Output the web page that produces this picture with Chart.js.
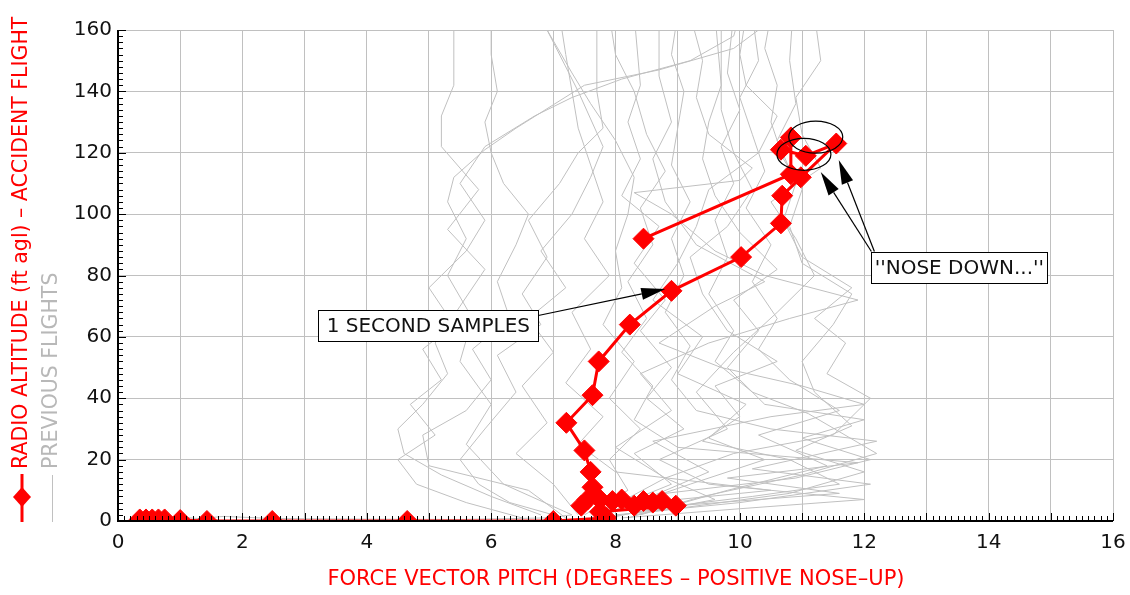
<!DOCTYPE html>
<html>
<head>
<meta charset="utf-8">
<script src="https://cdn.jsdelivr.net/npm/chart.js@4/dist/chart.umd.min.js"></script>
<style>
  html, body { margin: 0; padding: 0; background: #fff; }
  #chart { display: block; }
</style>
</head>
<body>
<canvas id="chart" width="1130" height="595"></canvas>
<script>
'use strict';

// ---- accident flight (1 second samples) ----
const accidentPitch = [8.45, 10.82, 10.82, 10.66, 11.06, 11.55, 10.98, 10.68, 10.66, 10.02,
  8.9, 8.23, 7.73, 7.63, 7.21, 7.5, 7.6, 7.63, 7.55, 7.45,
  7.75, 7.95, 8.1, 8.3, 8.45, 8.6, 8.75, 8.97, 7.75, 7.85,
  7.0, 4.65, 2.48, 1.43, 1.0, 0.75, 0.65, 0.55, 0.45, 0.35];
const accidentAlt = [92, 113, 125, 121, 119, 123, 112, 106, 97, 86,
  75, 64, 52, 41, 32, 23, 16, 11, 7, 5,
  7, 6.5, 7, 5, 6.5, 6, 6.5, 5, 3, 1,
  0, 0, 0, 0, 0.3, 0.5, 0.5, 0.5, 0.5, 0.5];

// ---- previous flights: [pitch, altitude] ----
const prevGround = [[0.2, 0.5], [0.8, 1.5], [1.3, 0.8], [1.7, 1.5], [2.5, 0.8], [4, 0.6], [5.5, 0.5], [6.9, 1], [7.3, 2]];
const prev01 = [[6.8, 2], [6.0, 8], [5.2, 15], [4.6, 22], [4.5, 30], [4.9, 38], [5.3, 48], [5.1, 58], [5.5, 70], [5.9, 82], [5.3, 95], [5.8, 108], [5.2, 122], [5.2, 132], [5.4, 142], [5.4, 152], [5.4, 165]];
const prev02 = [[7.2, 1], [6.6, 10], [5.0, 18], [4.9, 28], [5.6, 36], [6.0, 46], [5.7, 56], [6.3, 66], [6.1, 78], [6.4, 90], [6.6, 100], [6.2, 110], [6.0, 120], [5.9, 130], [6.1, 140], [6.0, 152], [6.0, 165]];
const prev03 = [[7.4, 2], [7.0, 12], [6.4, 22], [6.9, 32], [6.5, 44], [7.0, 55], [6.6, 66], [7.2, 76], [6.8, 88], [7.3, 100], [7.6, 112], [7.8, 122], [7.4, 140], [6.9, 160], [6.8, 165]];
const prev04 = [[7.6, 1], [8.5, 6], [10.5, 10], [8.0, 16], [7.4, 25], [7.8, 34], [7.2, 45], [7.6, 56], [7.3, 68], [7.9, 80], [7.5, 92], [7.8, 104], [7.6, 116], [7.4, 128], [7.3, 140], [7.2, 152], [7.1, 165]];
const prev05 = [[7.8, 1], [9.0, 5], [11.6, 9], [9.8, 14], [11.9, 19], [9.0, 24], [8.3, 33], [8.6, 44], [8.1, 55], [8.5, 66], [8.2, 78], [8.6, 90], [8.4, 102], [8.8, 114], [8.5, 126], [8.3, 140], [8.0, 152], [7.9, 165]];
const prev06 = [[8.0, 2], [10.0, 6], [12.1, 12], [10.2, 17], [12.2, 26], [10.5, 30], [9.3, 36], [8.9, 46], [9.2, 57], [8.8, 68], [9.1, 80], [8.9, 92], [9.2, 104], [8.9, 116], [9.0, 128], [9.1, 140], [8.9, 152], [9.0, 165]];
const prev07 = [[8.2, 1], [9.4, 8], [11.0, 15], [12.2, 22], [11.1, 35], [10.2, 42], [9.6, 52], [9.9, 62], [9.5, 74], [9.8, 86], [9.6, 98], [9.9, 110], [9.7, 122], [10.0, 134], [9.8, 146], [9.9, 165]];
const prev08 = [[8.4, 2], [9.8, 10], [11.4, 18], [10.3, 28], [11.6, 36], [10.8, 46], [10.3, 56], [10.6, 66], [10.2, 78], [10.5, 90], [10.1, 102], [10.4, 114], [10.2, 126], [10.0, 138], [10.3, 150], [10.2, 165]];
const prev09 = [[8.6, 3], [10.8, 9], [12.0, 16], [10.9, 23], [11.8, 31], [11.2, 42], [11.0, 52], [11.5, 64], [11.8, 74], [11.0, 84], [10.8, 96], [11.0, 108], [10.7, 118], [10.5, 130], [10.6, 142], [10.4, 154], [10.5, 165]];
const prev10 = [[7.9, 3], [9.2, 12], [10.4, 20], [9.5, 27], [10.1, 38], [9.0, 48], [9.4, 60], [8.6, 72], [9.0, 84], [9.3, 96], [9.5, 108], [10.3, 120], [10.6, 132], [10.1, 142], [10.0, 152], [10.1, 165]];
const prev11 = [[7.5, 2], [8.2, 10], [7.9, 20], [8.4, 30], [7.9, 40], [8.3, 52], [7.8, 64], [8.1, 76], [8.0, 88], [8.2, 100], [8.3, 112], [8.0, 124], [7.6, 136], [7.3, 146], [6.9, 160], [6.8, 165]];
const prev12 = [[7.3, 2], [6.2, 12], [5.6, 25], [6.0, 38], [5.5, 52], [5.7, 66], [5.3, 80], [5.6, 92], [5.3, 104], [5.4, 112], [5.9, 121], [6.4, 128], [7.5, 142], [8.7, 147], [9.9, 154], [10.3, 160], [10.4, 165]];
const prev13 = [[8.1, 1], [10.0, 4], [12.0, 7], [9.5, 12], [8.7, 20], [9.8, 30], [9.3, 42], [9.9, 55], [10.6, 68], [11.2, 80], [10.9, 92], [10.5, 104], [11.3, 115], [11.0, 126], [10.9, 138], [11.3, 150], [11.2, 165]];
const prev14 = [[7.7, 2], [8.8, 14], [8.0, 24], [8.9, 36], [8.4, 48], [9.5, 58], [10.8, 66], [11.9, 72], [10.4, 80], [9.6, 88], [8.9, 100], [8.3, 107], [10.0, 111], [10.2, 115], [9.5, 126], [9.3, 138], [9.4, 150], [9.2, 165]];
const prev15 = [[7.6, 3], [8.8, 9], [10.9, 14], [12.1, 20], [11.0, 27], [12.0, 33], [10.4, 38], [9.8, 50], [10.3, 62], [9.9, 72], [10.6, 82], [10.0, 94], [9.6, 106], [9.4, 118], [9.5, 130], [9.7, 142], [9.6, 165]];
const prev16 = [[8.3, 2], [9.6, 7], [8.8, 14], [9.9, 22], [11.5, 28], [12.1, 40], [11.4, 48], [11.7, 58], [11.2, 66], [11.8, 76], [11.0, 86], [10.7, 98], [10.9, 110], [10.6, 124], [10.9, 136], [10.8, 150], [10.85, 165]];
const prev17 = [[7.0, 2], [6.3, 6], [5.8, 12], [5.5, 20], [5.9, 30], [6.4, 42], [6.1, 54], [6.8, 64], [6.5, 74], [6.9, 86], [6.6, 98], [7.1, 110], [7.4, 120], [7.8, 128], [7.7, 140], [7.7, 165]];
const prev18 = [[7.8, 3], [8.9, 12], [8.3, 22], [9.1, 30], [8.5, 40], [8.9, 50], [8.4, 62], [8.8, 72], [8.3, 84], [8.7, 96], [8.1, 106], [8.4, 118], [8.2, 130], [8.4, 142], [8.3, 165]];
const prev19 = [[8.0, 3], [9.5, 16], [8.6, 26], [10.5, 34], [12.0, 38], [11.0, 44], [9.7, 50], [8.7, 58], [9.6, 70], [10.4, 78], [9.3, 90], [8.8, 104], [8.6, 118], [8.9, 130], [8.7, 145], [8.7, 165]];
const prev20 = [[7.9, 1], [8.6, 4], [10.2, 8], [11.6, 12], [10.8, 20], [9.4, 26], [10.0, 34], [9.6, 44], [10.6, 52], [9.8, 62], [9.4, 74], [9.2, 86], [9.8, 96], [10.2, 108], [9.9, 120], [9.7, 134], [9.7, 165]];
const prev21 = [[6.5, 1], [5.6, 6], [4.8, 12], [4.5, 20], [5.1, 28], [4.7, 38], [5.2, 46], [4.9, 56], [5.4, 64], [5.0, 76], [5.6, 88], [5.9, 98], [5.5, 110], [5.9, 122], [6.7, 132], [7.3, 138], [8.1, 144], [9.2, 150], [9.9, 158], [10.0, 165]];
const previousFlights = [prevGround, prev01, prev02, prev03, prev04, prev05, prev06, prev07,
  prev08, prev09, prev10, prev11, prev12, prev13, prev14, prev15, prev16, prev17, prev18,
  prev19, prev20, prev21];

// ---- axes ----
const xTickLabels = [0, 2, 4, 6, 8, 10, 12, 14, 16];
const yTickLabels = [0, 20, 40, 60, 80, 100, 120, 140, 160];

const RED = '#ff0000';
const GREY = '#c0c0c0';
const FONT = "'DejaVu Sans', sans-serif";

// annotation anchors (data units)
const samplesBox = { x: 4.99, y: 63.7, text: '1 SECOND SAMPLES' };
const samplesTarget = { x: 8.8, y: 75.6 };
const noseBox = { x: 13.53, y: 82.6, text: "''NOSE DOWN...''" };
const noseTargets = [{ x: 11.3, y: 113.7 }, { x: 11.59, y: 117.6 }];
const noseEllipses = [{ x: 11.22, y: 125.1 }, { x: 11.03, y: 119.5 }];

function drawArrow(ctx, x1, y1, x2, y2) {
  const a = Math.atan2(y2 - y1, x2 - x1);
  const len = 24, half = 6;
  ctx.beginPath();
  ctx.moveTo(x1, y1);
  ctx.lineTo(x2 - Math.cos(a) * len, y2 - Math.sin(a) * len);
  ctx.stroke();
  ctx.beginPath();
  ctx.moveTo(x2, y2);
  ctx.lineTo(x2 - Math.cos(a) * len - Math.sin(a) * half, y2 - Math.sin(a) * len + Math.cos(a) * half);
  ctx.lineTo(x2 - Math.cos(a) * len + Math.sin(a) * half, y2 - Math.sin(a) * len - Math.cos(a) * half);
  ctx.closePath();
  ctx.fill();
}

function drawBox(ctx, cx, cy, w, h, text) {
  ctx.fillStyle = '#fff';
  ctx.fillRect(cx - w / 2, cy - h / 2, w, h);
  ctx.strokeStyle = '#000';
  ctx.lineWidth = 1;
  ctx.strokeRect(Math.round(cx - w / 2) + 0.5, Math.round(cy - h / 2) + 0.5, w, h);
  ctx.fillStyle = '#111';
  ctx.font = `20px ${FONT}`;
  ctx.textAlign = 'center';
  ctx.textBaseline = 'middle';
  ctx.fillText(text, cx, cy + 1);
}

const decorPlugin = {
  id: 'decor',
  afterDraw(chart) {
    const { ctx, chartArea: ca, scales: { x, y } } = chart;
    ctx.save();

    // axis lines + small ticks
    ctx.strokeStyle = '#000';
    ctx.lineWidth = 1;
    ctx.beginPath();
    for (let i = 0; i <= 160; i++) {
      const px = Math.round(x.getPixelForValue(i / 10)) + 0.5;
      const l = i % 10 === 0 ? 8 : 5;
      ctx.moveTo(px, ca.bottom);
      ctx.lineTo(px, ca.bottom - l);
    }
    for (let i = 0; i <= 80; i++) {
      const py = Math.round(y.getPixelForValue(i * 2)) + 0.5;
      const l = i % 10 === 0 ? 8 : 5;
      ctx.moveTo(ca.left, py);
      ctx.lineTo(ca.left + l, py);
    }
    ctx.stroke();
    ctx.lineWidth = 2;
    ctx.beginPath();
    ctx.moveTo(ca.left, ca.top);
    ctx.lineTo(ca.left, ca.bottom);
    ctx.lineTo(ca.right, ca.bottom);
    ctx.stroke();

    // x title
    ctx.fillStyle = RED;
    ctx.font = `21px ${FONT}`;
    ctx.textAlign = 'center';
    ctx.textBaseline = 'middle';
    ctx.fillText('FORCE VECTOR PITCH (DEGREES \u2013 POSITIVE NOSE\u2013UP)', 616, 580);

    // rotated legend / y title
    ctx.font = `20.5px ${FONT}`;
    ctx.save();
    ctx.translate(22, 469);
    ctx.rotate(-Math.PI / 2);
    ctx.textAlign = 'left';
    ctx.fillStyle = RED;
    ctx.fillText('RADIO ALTITUDE (ft agl) \u2013 ACCIDENT FLIGHT', 0, 0);
    ctx.restore();
    ctx.save();
    ctx.translate(52, 469);
    ctx.rotate(-Math.PI / 2);
    ctx.textAlign = 'left';
    ctx.fillStyle = '#b8b8b8';
    ctx.fillText('PREVIOUS FLIGHTS', 0, 0);
    ctx.restore();

    ctx.strokeStyle = RED;
    ctx.lineWidth = 3;
    ctx.beginPath();
    ctx.moveTo(22, 474);
    ctx.lineTo(22, 522);
    ctx.stroke();
    ctx.fillStyle = RED;
    ctx.beginPath();
    ctx.moveTo(22, 487); ctx.lineTo(31, 497); ctx.lineTo(22, 507); ctx.lineTo(13, 497);
    ctx.closePath();
    ctx.fill();
    ctx.strokeStyle = GREY;
    ctx.lineWidth = 1;
    ctx.beginPath();
    ctx.moveTo(52.5, 475);
    ctx.lineTo(52.5, 522);
    ctx.stroke();

    // ellipses
    ctx.strokeStyle = '#000';
    ctx.lineWidth = 1.2;
    noseEllipses.forEach((e) => {
      ctx.beginPath();
      ctx.ellipse(x.getPixelForValue(e.x), y.getPixelForValue(e.y), 27, 16, 0, 0, Math.PI * 2);
      ctx.stroke();
    });

    // arrows
    ctx.fillStyle = '#000';
    ctx.lineWidth = 1.2;
    const sbx = x.getPixelForValue(samplesBox.x), sby = y.getPixelForValue(samplesBox.y);
    drawArrow(ctx, sbx + 110, sby - 10, x.getPixelForValue(samplesTarget.x), y.getPixelForValue(samplesTarget.y));
    const nbx = x.getPixelForValue(noseBox.x), nby = y.getPixelForValue(noseBox.y);
    drawArrow(ctx, nbx - 88, nby - 16, x.getPixelForValue(noseTargets[0].x), y.getPixelForValue(noseTargets[0].y));
    drawArrow(ctx, nbx - 85, nby - 16, x.getPixelForValue(noseTargets[1].x), y.getPixelForValue(noseTargets[1].y));

    // boxes
    drawBox(ctx, sbx, sby, 220, 31, samplesBox.text);
    drawBox(ctx, nbx, nby, 176, 31, noseBox.text);

    ctx.restore();
  }
};

const datasets = [{
  data: accidentPitch.map((p, i) => ({ x: p, y: accidentAlt[i] })),
  showLine: true,
  borderColor: RED,
  borderWidth: 3,
  backgroundColor: RED,
  pointStyle: 'rectRot',
  pointRadius: 10.5,
  pointBorderWidth: 1,
  pointBorderColor: RED,
  pointBackgroundColor: RED,
  order: 0
}].concat(previousFlights.map((flight) => ({
  data: flight.map(([p, a]) => ({ x: p, y: a })),
  showLine: true,
  borderColor: GREY,
  borderWidth: 1,
  pointRadius: 0,
  order: 1
})));

new Chart(document.getElementById('chart'), {
  type: 'scatter',
  data: { datasets },
  options: {
    responsive: false,
    animation: false,
    layout: { padding: { top: 30, right: 17, left: 0, bottom: 0 } },
    plugins: { legend: { display: false }, tooltip: { enabled: false } },
    scales: {
      x: {
        type: 'linear',
        min: 0,
        max: 16,
        afterFit: (s) => { s.height = 74; s.paddingLeft = 0; s.paddingRight = 0; },
        border: { display: false },
        grid: { color: GREY, lineWidth: 1, drawTicks: false },
        ticks: {
          stepSize: 1,
          padding: 10,
          color: '#111',
          font: { family: FONT, size: 20 },
          maxRotation: 0,
          autoSkip: false,
          callback: (v) => (xTickLabels.includes(v) ? String(v) : '')
        }
      },
      y: {
        type: 'linear',
        min: 0,
        max: 160,
        afterFit: (s) => { s.width = 118; s.paddingTop = 0; s.paddingBottom = 0; },
        border: { display: false },
        grid: { color: GREY, lineWidth: 1, drawTicks: false },
        ticks: {
          stepSize: 20,
          padding: 6,
          color: '#111',
          font: { family: FONT, size: 20 },
          callback: (v) => (yTickLabels.includes(v) ? String(v) : '')
        }
      }
    }
  },
  plugins: [decorPlugin]
});
</script>
</body>
</html>
